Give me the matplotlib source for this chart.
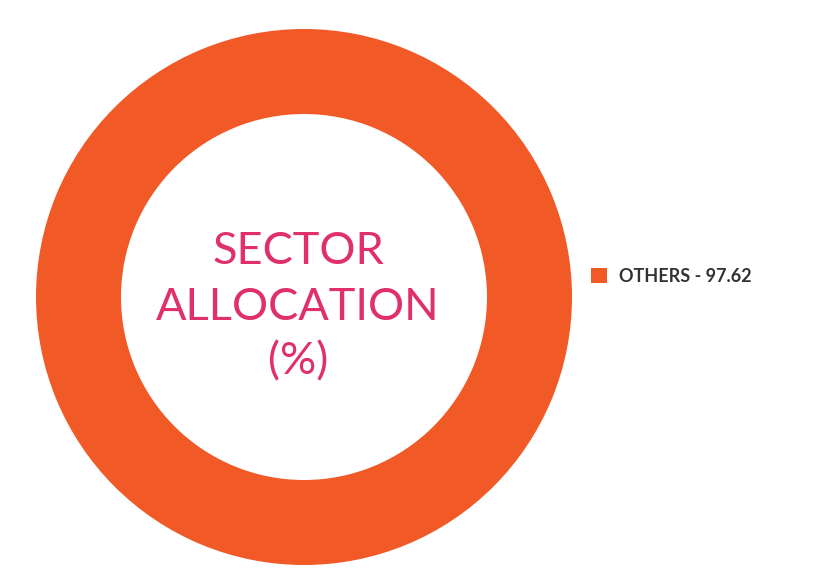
import matplotlib.pyplot as plt

# sector allocation data
sectors = ["OTHERS"]
weights = [97.62]
colors = ["#F15A27"]

TITLE_LINES = ["SECTOR", "ALLOCATION", "(%)"]

plt.rcParams["font.family"] = ["Lato", "DejaVu Sans"]

fig = plt.figure(figsize=(8.14, 5.73), dpi=100)
# square axes holding the ring, centre at (304, 297) px, outer radius 268 px
ax = fig.add_axes([36 / 814, 8 / 573, 536 / 814, 536 / 573])

wedges, _ = ax.pie(
    weights,
    colors=colors,
    radius=1.0,
    startangle=90,
    counterclock=False,
    wedgeprops=dict(width=1 - 183 / 268, edgecolor="none"),
)
ax.set_xlim(-1, 1)
ax.set_ylim(-1, 1)
ax.set_aspect("equal")
ax.axis("off")

# centre title (sits slightly left of the ring centre in the original)
for i, line in enumerate(TITLE_LINES):
    ax.text(-6 / 268, (297 - (252 + 55 * i)) / 268, line, ha="center", va="center",
            fontsize=32.5, color="#E0306A", fontweight="normal")

labels = [f"{s} - {w:.2f}" for s, w in zip(sectors, weights)]
fig.legend(
    wedges, labels,
    loc="center left",
    bbox_to_anchor=(591 / 814, (573 - 276) / 573),
    frameon=False,
    borderpad=0,
    borderaxespad=0,
    handlelength=0.89,
    handleheight=0.89,
    handletextpad=0.65,
    prop=dict(family=["Lato", "DejaVu Sans"], weight="bold", size=13),
    labelcolor="#333333",
)

fig.savefig("out.png", dpi=100, facecolor="white")
